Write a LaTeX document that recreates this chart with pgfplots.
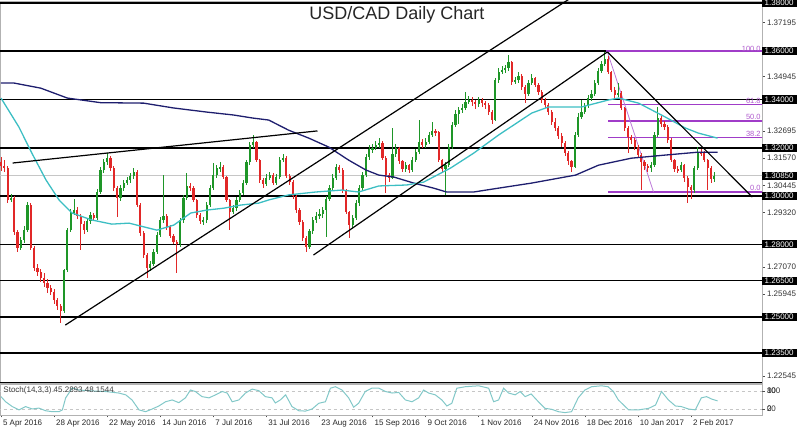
\documentclass[border=0pt]{standalone}
\usepackage{pgfplots}
\pgfplotsset{compat=1.18}
\usepackage{pgfplotstable}
\usepackage{fontspec}
\setmainfont{Liberation Sans}
\definecolor{upc}{RGB}{30,150,40}
\definecolor{dnc}{RGB}{225,40,40}
\definecolor{ma200}{RGB}{30,30,110}
\definecolor{ma50}{RGB}{60,190,195}
\definecolor{stc}{RGB}{130,200,200}
\definecolor{fibc}{RGB}{160,60,200}
\definecolor{fibt}{RGB}{175,90,205}
\pgfplotstableread{
i o h l c
0 1.3140 1.3160 1.3105 1.3124
1 1.3124 1.3150 1.3100 1.3116
2 1.3116 1.3125 1.2970 1.2984
3 1.2984 1.3010 1.2975 1.2992
4 1.2992 1.3000 1.2840 1.2851
5 1.2851 1.2860 1.2770 1.2785
6 1.2785 1.2830 1.2775 1.2818
7 1.2818 1.2875 1.2805 1.2859
8 1.2859 1.2975 1.2850 1.2963
9 1.2963 1.2970 1.2775 1.2785
10 1.2785 1.2795 1.2690 1.2702
11 1.2702 1.2720 1.2670 1.2686
12 1.2686 1.2700 1.2645 1.2661
13 1.2661 1.2680 1.2625 1.2640
14 1.2640 1.2655 1.2600 1.2619
15 1.2619 1.2630 1.2590 1.2603
16 1.2603 1.2615 1.2555 1.2570
17 1.2570 1.2580 1.2530 1.2545
18 1.2545 1.2555 1.2475 1.2524
19 1.2524 1.2700 1.2515 1.2694
20 1.2694 1.2870 1.2685 1.2859
21 1.2859 1.2945 1.2850 1.2930
22 1.2930 1.2990 1.2920 1.2942
23 1.2942 1.2955 1.2905 1.2917
24 1.2917 1.2925 1.2777 1.2884
25 1.2884 1.2895 1.2845 1.2859
26 1.2859 1.2910 1.2850 1.2897
27 1.2897 1.2935 1.2885 1.2922
28 1.2922 1.2930 1.2895 1.2909
29 1.2909 1.3030 1.2900 1.3017
30 1.3017 1.3120 1.3010 1.3108
31 1.3108 1.3155 1.3095 1.3141
32 1.3141 1.3178 1.3130 1.3157
33 1.3157 1.3165 1.3105 1.3116
34 1.3116 1.3125 1.3020 1.3033
35 1.3033 1.3040 1.2915 1.2992
36 1.2992 1.3045 1.2980 1.3033
37 1.3033 1.3065 1.3020 1.3054
38 1.3054 1.3080 1.3045 1.3066
39 1.3066 1.3095 1.3055 1.3083
40 1.3083 1.3115 1.3070 1.3100
41 1.3100 1.3110 1.2955 1.2963
42 1.2963 1.2970 1.2835 1.2847
43 1.2847 1.2855 1.2745 1.2756
44 1.2756 1.2765 1.2661 1.2702
45 1.2702 1.2730 1.2690 1.2719
46 1.2719 1.2780 1.2710 1.2768
47 1.2768 1.2850 1.2760 1.2839
48 1.2839 1.2915 1.2830 1.2901
49 1.2901 1.3087 1.2890 1.2917
50 1.2917 1.2925 1.2860 1.2872
51 1.2872 1.2880 1.2825 1.2835
52 1.2835 1.2845 1.2800 1.2810
53 1.2810 1.2820 1.2682 1.2801
54 1.2801 1.2910 1.2790 1.2901
55 1.2901 1.3005 1.2890 1.2992
56 1.2992 1.3095 1.2985 1.3042
57 1.3042 1.3055 1.3020 1.3033
58 1.3033 1.3040 1.2975 1.2984
59 1.2984 1.2990 1.2910 1.2922
60 1.2922 1.2930 1.2885 1.2897
61 1.2897 1.2915 1.2880 1.2901
62 1.2901 1.2975 1.2890 1.2963
63 1.2963 1.3045 1.2955 1.3033
64 1.3033 1.3136 1.3025 1.3087
65 1.3087 1.3130 1.3075 1.3116
66 1.3116 1.3140 1.3100 1.3120
67 1.3120 1.3130 1.3070 1.3079
68 1.3079 1.3085 1.2975 1.2984
69 1.2984 1.2990 1.2860 1.2934
70 1.2934 1.2965 1.2925 1.2950
71 1.2950 1.2995 1.2940 1.2984
72 1.2984 1.3025 1.2975 1.3013
73 1.3013 1.3065 1.3005 1.3054
74 1.3054 1.3150 1.3045 1.3141
75 1.3141 1.3225 1.3130 1.3211
76 1.3211 1.3253 1.3200 1.3224
77 1.3224 1.3230 1.3140 1.3149
78 1.3149 1.3155 1.3055 1.3066
79 1.3066 1.3075 1.3035 1.3050
80 1.3050 1.3090 1.3040 1.3075
81 1.3075 1.3100 1.3065 1.3087
82 1.3087 1.3095 1.3045 1.3054
83 1.3054 1.3090 1.3045 1.3079
84 1.3079 1.3160 1.3070 1.3149
85 1.3149 1.3175 1.3140 1.3157
86 1.3157 1.3165 1.3075 1.3083
87 1.3083 1.3090 1.3045 1.3058
88 1.3058 1.3065 1.2990 1.3000
89 1.3000 1.3005 1.2930 1.2942
90 1.2942 1.2950 1.2880 1.2893
91 1.2893 1.2900 1.2815 1.2826
92 1.2826 1.2835 1.2769 1.2789
93 1.2789 1.2865 1.2780 1.2855
94 1.2855 1.2915 1.2845 1.2901
95 1.2901 1.2935 1.2890 1.2917
96 1.2917 1.2945 1.2905 1.2926
97 1.2926 1.2955 1.2910 1.2942
98 1.2942 1.3000 1.2831 1.2988
99 1.2988 1.3045 1.2980 1.3033
100 1.3033 1.3090 1.3025 1.3075
101 1.3075 1.3135 1.3065 1.3120
102 1.3120 1.3130 1.3095 1.3108
103 1.3108 1.3115 1.3015 1.3025
104 1.3025 1.3030 1.2925 1.2934
105 1.2934 1.2940 1.2827 1.2880
106 1.2880 1.2920 1.2870 1.2909
107 1.2909 1.2985 1.2900 1.2971
108 1.2971 1.3045 1.2960 1.3033
109 1.3033 1.3100 1.3025 1.3087
110 1.3087 1.3175 1.3080 1.3162
111 1.3162 1.3210 1.3150 1.3195
112 1.3195 1.3215 1.3180 1.3199
113 1.3199 1.3230 1.3190 1.3211
114 1.3211 1.3240 1.3200 1.3220
115 1.3220 1.3228 1.3150 1.3157
116 1.3157 1.3165 1.3013 1.3087
117 1.3087 1.3095 1.3060 1.3075
118 1.3075 1.3282 1.3070 1.3174
119 1.3174 1.3215 1.3160 1.3199
120 1.3199 1.3205 1.3135 1.3145
121 1.3145 1.3150 1.3100 1.3112
122 1.3112 1.3140 1.3100 1.3128
123 1.3128 1.3135 1.3095 1.3108
124 1.3108 1.3160 1.3100 1.3149
125 1.3149 1.3195 1.3140 1.3182
126 1.3182 1.3315 1.3175 1.3224
127 1.3224 1.3235 1.3200 1.3211
128 1.3211 1.3240 1.3200 1.3224
129 1.3224 1.3265 1.3215 1.3253
130 1.3253 1.3307 1.3245 1.3269
131 1.3269 1.3280 1.3250 1.3265
132 1.3265 1.3270 1.3140 1.3149
133 1.3149 1.3155 1.3100 1.3112
134 1.3112 1.3140 1.3005 1.3128
135 1.3128 1.3215 1.3120 1.3203
136 1.3203 1.3305 1.3195 1.3294
137 1.3294 1.3355 1.3285 1.3340
138 1.3340 1.3370 1.3300 1.3356
139 1.3356 1.3380 1.3345 1.3365
140 1.3365 1.3431 1.3355 1.3389
141 1.3389 1.3415 1.3380 1.3398
142 1.3398 1.3410 1.3375 1.3389
143 1.3389 1.3400 1.3360 1.3381
144 1.3381 1.3410 1.3370 1.3398
145 1.3398 1.3405 1.3370 1.3385
146 1.3385 1.3395 1.3360 1.3377
147 1.3377 1.3385 1.3335 1.3348
148 1.3348 1.3355 1.3300 1.3315
149 1.3315 1.3490 1.3310 1.3480
150 1.3480 1.3530 1.3470 1.3514
151 1.3514 1.3540 1.3505 1.3522
152 1.3522 1.3545 1.3510 1.3530
153 1.3530 1.3584 1.3520 1.3555
154 1.3555 1.3560 1.3460 1.3472
155 1.3472 1.3495 1.3465 1.3480
156 1.3480 1.3515 1.3470 1.3497
157 1.3497 1.3505 1.3440 1.3451
158 1.3451 1.3460 1.3385 1.3422
159 1.3422 1.3480 1.3415 1.3468
160 1.3468 1.3505 1.3460 1.3489
161 1.3489 1.3495 1.3450 1.3460
162 1.3460 1.3470 1.3420 1.3431
163 1.3431 1.3440 1.3385 1.3398
164 1.3398 1.3405 1.3365 1.3377
165 1.3377 1.3385 1.3335 1.3348
166 1.3348 1.3355 1.3295 1.3306
167 1.3306 1.3325 1.3270 1.3282
168 1.3282 1.3290 1.3235 1.3249
169 1.3249 1.3260 1.3205 1.3220
170 1.3220 1.3230 1.3165 1.3178
171 1.3178 1.3185 1.3130 1.3145
172 1.3145 1.3150 1.3100 1.3120
173 1.3120 1.3265 1.3115 1.3253
174 1.3253 1.3345 1.3245 1.3327
175 1.3327 1.3400 1.3320 1.3348
176 1.3348 1.3385 1.3340 1.3373
177 1.3373 1.3420 1.3365 1.3406
178 1.3406 1.3440 1.3395 1.3422
179 1.3422 1.3480 1.3415 1.3468
180 1.3468 1.3530 1.3460 1.3518
181 1.3518 1.3560 1.3510 1.3547
182 1.3547 1.3597 1.3540 1.3567
183 1.3567 1.3580 1.3505 1.3514
184 1.3514 1.3520 1.3430 1.3439
185 1.3439 1.3450 1.3405 1.3418
186 1.3418 1.3470 1.3410 1.3427
187 1.3427 1.3435 1.3355 1.3365
188 1.3365 1.3370 1.3270 1.3282
189 1.3282 1.3290 1.3179 1.3244
190 1.3244 1.3255 1.3215 1.3232
191 1.3232 1.3240 1.3190 1.3203
192 1.3203 1.3210 1.3160 1.3170
193 1.3170 1.3180 1.3025 1.3141
194 1.3141 1.3150 1.3110 1.3124
195 1.3124 1.3135 1.3100 1.3116
196 1.3116 1.3140 1.3100 1.3128
197 1.3128 1.3265 1.3120 1.3253
198 1.3253 1.3369 1.3245 1.3323
199 1.3323 1.3330 1.3285 1.3298
200 1.3298 1.3310 1.3275 1.3286
201 1.3286 1.3295 1.3220 1.3232
202 1.3232 1.3240 1.3140 1.3149
203 1.3149 1.3155 1.3100 1.3112
204 1.3112 1.3125 1.3095 1.3108
205 1.3108 1.3140 1.3100 1.3128
206 1.3128 1.3135 1.3060 1.3075
207 1.3075 1.3085 1.2972 1.3037
208 1.3037 1.3045 1.2990 1.3025
209 1.3025 1.3125 1.3015 1.3116
210 1.3116 1.3203 1.3110 1.3182
211 1.3182 1.3195 1.3165 1.3178
212 1.3178 1.3185 1.3140 1.3149
213 1.3149 1.3155 1.3025 1.3116
214 1.3116 1.3125 1.3055 1.3070
215 1.3070 1.3100 1.3060 1.3085
}\ohlc
\begin{document}
\begin{tikzpicture}
\useasboundingbox (0pt,0pt) rectangle (800pt,428pt);
\node[font=\fontsize{18}{20}\selectfont, text=black!85] at (397pt,413pt) {USD/CAD Daily Chart};
\begin{axis}[at={(0pt,427pt)}, anchor=north west, scale only axis,
  width=762pt, height=382pt,
  xmin=-0.3, xmax=229.4, ymin=1.2226, ymax=1.3808,
  xtick=\empty,
  ytick pos=right, yticklabel pos=right, tick align=outside,
  major tick length=2.5pt,
  tick style={gray!60!black, line width=0.5pt},
  axis line style={gray!60, line width=0.8pt},
  /pgf/number format/assume math mode=true,
  ytick={1.22545,1.25945,1.27070,1.29320,1.30445,1.31570,1.32695,1.34945,1.37195},
  yticklabels={1.22545,1.25945,1.27070,1.29320,1.30445,1.31570,1.32695,1.34945,1.37195},
  yticklabel style={font=\fontsize{8}{9}\selectfont, text=black!80, xshift=-1pt},
  extra y ticks={1.235,1.25,1.265,1.28,1.30,1.3085,1.32,1.34,1.36,1.38},
  extra y tick labels={1.23500,1.25000,1.26500,1.28000,1.30000,1.30850,1.32000,1.34000,1.36000,1.38000},
  extra y tick style={yticklabel style={fill=black, text=white, inner xsep=3pt, inner ysep=1.2pt, xshift=-2pt}},
  clip=true]
% horizontal levels
\addplot[gray!45, line width=0.5pt] coordinates {(-1,1.3085) (230,1.3085)};
\addplot[black, line width=1.5pt] coordinates {(-1,1.38) (230,1.38)};
\addplot[black, line width=1.5pt] coordinates {(-1,1.36) (230,1.36)};
\addplot[black, line width=1.5pt] coordinates {(-1,1.34) (230,1.34)};
\addplot[black, line width=1.5pt] coordinates {(-1,1.32) (230,1.32)};
\addplot[black, line width=1.5pt] coordinates {(-1,1.30) (230,1.30)};
\addplot[black, line width=1.5pt] coordinates {(-1,1.28) (230,1.28)};
\addplot[black, line width=1.5pt] coordinates {(-1,1.265) (230,1.265)};
\addplot[black, line width=1.5pt] coordinates {(-1,1.25) (230,1.25)};
\addplot[black, line width=1.5pt] coordinates {(-1,1.235) (230,1.235)};
% fibonacci levels
\addplot[fibc, line width=1.5pt] coordinates {(182.3,1.3600) (230,1.3600)};
\addplot[fibc, line width=1.5pt] coordinates {(183.1,1.3380) (230,1.3380)};
\addplot[fibc, line width=1.5pt] coordinates {(183.1,1.3310) (230,1.3310)};
\addplot[fibc, line width=1.5pt] coordinates {(183.1,1.3242) (230,1.3242)};
\addplot[fibc, line width=1.5pt] coordinates {(183.1,1.3018) (230,1.3018)};
\addplot[fibc!70, line width=0.8pt] coordinates {(182.8,1.3597) (196.7,1.3017)};
% candles: wicks
\addplot[draw=none, forget plot, restrict y to domain=1:2,
  error bars/.cd, y dir=both, y explicit, error mark=none,
  error bar style={draw=upc, line width=0.8pt}]
  table[x=i, y expr={(\thisrow{c}>=\thisrow{o}) ? (\thisrow{h}+\thisrow{l})/2 : 0},
        y error expr={(\thisrow{h}-\thisrow{l})/2}] {\ohlc};
\addplot[draw=none, forget plot, restrict y to domain=1:2,
  error bars/.cd, y dir=both, y explicit, error mark=none,
  error bar style={draw=dnc, line width=0.8pt}]
  table[x=i, y expr={(\thisrow{c}<\thisrow{o}) ? (\thisrow{h}+\thisrow{l})/2 : 0},
        y error expr={(\thisrow{h}-\thisrow{l})/2}] {\ohlc};
% candles: bodies
\addplot[draw=none, forget plot, restrict y to domain=1:2,
  error bars/.cd, y dir=both, y explicit, error mark=none,
  error bar style={draw=upc, line width=2.2pt}]
  table[x=i, y expr={(\thisrow{c}>=\thisrow{o}) ? (\thisrow{o}+\thisrow{c})/2 : 0},
        y error expr={max(abs(\thisrow{c}-\thisrow{o})/2,0.0001)}] {\ohlc};
\addplot[draw=none, forget plot, restrict y to domain=1:2,
  error bars/.cd, y dir=both, y explicit, error mark=none,
  error bar style={draw=dnc, line width=2.2pt}]
  table[x=i, y expr={(\thisrow{c}<\thisrow{o}) ? (\thisrow{o}+\thisrow{c})/2 : 0},
        y error expr={max(abs(\thisrow{c}-\thisrow{o})/2,0.0001)}] {\ohlc};
% moving averages
\addplot[ma200, line width=1.3pt] coordinates {
(0,1.3468) (4,1.3468) (12,1.3447) (20,1.3406) (30,1.3387) (43,1.3385) (52,1.3365)
(62,1.3348) (70,1.3336) (76,1.3323) (80.7,1.3315) (86.7,1.3273) (92.8,1.3240)
(98.8,1.3203) (104.8,1.3149) (110,1.3108) (113.9,1.3087) (118.4,1.3079)
(124.4,1.3054) (130.4,1.3033) (134.3,1.3017) (142.5,1.3017) (150,1.3033)
(160,1.3054) (173.2,1.3087) (180.1,1.3128) (190,1.3157) (200.3,1.3170)
(210.2,1.3182) (216,1.3182)};
\addplot[ma50, line width=1.3pt] coordinates {
(0,1.3406) (5.4,1.3286) (9.3,1.3178) (13.6,1.3066) (17.5,1.2984) (21.4,1.2930)
(27.4,1.2901) (33.4,1.2884) (38.6,1.2888) (47,1.2859) (52.1,1.2880) (57.2,1.2930)
(62,1.2942) (67.2,1.2950) (72.3,1.2963) (77.7,1.2971) (80.7,1.2984) (86.7,1.3005)
(94.9,1.3017) (102.7,1.3025) (107.8,1.3017) (113.9,1.3042) (122.3,1.3046)
(127.4,1.3058) (135.5,1.3116) (142.5,1.3178) (150,1.3253) (160,1.3344)
(165,1.3369) (175,1.3369) (183.1,1.3398) (186.1,1.3406) (192.2,1.3385)
(200.3,1.3327) (206.3,1.3282) (210.2,1.3261) (216,1.3240)};
% trendlines
\addplot[black, line width=1.2pt] coordinates {(19.4,1.2466) (175,1.3849)};
\addplot[black, line width=1.2pt] coordinates {(94.2,1.2756) (182.8,1.3597)};
\addplot[black, line width=1.2pt] coordinates {(3.5,1.3137) (95.4,1.3270)};
\addplot[black, line width=1.2pt] coordinates {(182.8,1.3597) (226.5,1.2996)};
% fib labels
\node[anchor=south east, text=fibt, font=\fontsize{7.5}{8}\selectfont, inner sep=0.5pt] at (axis cs:229.2,1.3594) {100.0};
\node[anchor=south east, text=fibt, font=\fontsize{7.5}{8}\selectfont, inner sep=0.5pt] at (axis cs:229.2,1.3382) {61.8};
\node[anchor=south east, text=fibt, font=\fontsize{7.5}{8}\selectfont, inner sep=0.5pt] at (axis cs:229.2,1.3312) {50.0};
\node[anchor=south east, text=fibt, font=\fontsize{7.5}{8}\selectfont, inner sep=0.5pt] at (axis cs:229.2,1.3244) {38.2};
\node[anchor=south east, text=fibt, font=\fontsize{7.5}{8}\selectfont, inner sep=0.5pt] at (axis cs:229.2,1.3020) {0.0};
\draw[black, line width=1.8pt] (rel axis cs:0,0) -- (rel axis cs:1,0);
\end{axis}
\begin{axis}[at={(0pt,44pt)}, anchor=north west, scale only axis,
  width=762pt, height=31pt,
  xmin=-0.3, xmax=229.4, ymin=0, ymax=103,
  xtick={0,16,...,208},
  xticklabels={5 Apr 2016,28 Apr 2016,22 May 2016,14 Jun 2016,7 Jul 2016,31 Jul 2016,23 Aug 2016,15 Sep 2016,9 Oct 2016,1 Nov 2016,24 Nov 2016,18 Dec 2016,10 Jan 2017,2 Feb 2017},
  xtick pos=bottom, tick align=outside, major tick length=2.5pt,
  xticklabel style={anchor=north west, xshift=-1.5pt, yshift=1pt, font=\fontsize{8}{9}\selectfont, text=black!85},
  ytick={20,80}, yticklabels={20,80},
  extra y ticks={20,80}, extra y tick labels={0,100},
  ytick pos=right, yticklabel pos=right,
  yticklabel style={font=\fontsize{8}{9}\selectfont, text=black!80, xshift=-1pt, anchor=west},
  tick style={gray!60!black, line width=0.5pt},
  axis line style={gray!60, line width=0.8pt},
  clip=true]
\addplot[gray!45, dashed, line width=0.4pt] coordinates {(-1,80) (230,80)};
\addplot[gray!45, dashed, line width=0.4pt] coordinates {(-1,20) (230,20)};
\addplot[stc, line width=1pt] coordinates {
(0,61) (1.4,44) (3.4,28) (5.4,17) (7.4,28) (9.4,20) (11.4,23) (13.5,14) (15.5,11)
(17.5,11) (18.5,17) (19.5,57) (21.5,90) (23.5,83) (27.5,80) (31.5,78) (35.5,73)
(37.6,67) (39.5,50) (41.6,17) (43.6,11) (45.6,20) (47.6,30) (49.6,44) (51.6,50)
(53.6,41) (55.6,57) (57.1,83) (58.6,78) (60.6,61) (62.7,57) (64.7,67) (66.7,78)
(68.2,73) (69.7,44) (71.7,50) (73.7,73) (75.7,86) (77.7,81) (79.7,61) (81.7,57)
(82.7,40) (84.2,50) (85.8,67) (87.7,28) (89.8,14) (91.8,13) (93.8,20) (95.8,39)
(97.8,44) (99.3,89) (100.8,94) (102.8,83) (104.8,57) (106.3,26) (107.8,39)
(109.8,78) (111.8,89) (113.9,89) (115.9,78) (117.9,73) (119.9,75) (121.9,50)
(123.9,44) (125.9,57) (127.4,83) (128.9,73) (130.9,67) (132.9,50) (134.4,30)
(135.9,39) (137.4,89) (140,94) (144,97) (147,89) (148.5,44) (150,50) (151.5,89)
(153,73) (155,67) (156.5,78) (158,61) (159.8,70) (162,44) (164,22) (166,19)
(168,11) (170,8) (172,11) (174,57) (176,83) (178,94) (181,97) (183,94) (184.6,78)
(186.1,50) (187.7,33) (189.2,17) (192.2,17) (195.2,22) (197.3,33) (199.1,78)
(201.2,50) (203.3,30) (205.1,28) (207.2,20) (209.3,17) (211.1,57) (212.7,61)
(214.2,53) (216,47)};
\node[anchor=west, font=\fontsize{8}{9}\selectfont, text=black!75, inner sep=1pt] at (rel axis cs:0.003,0.8) {Stoch(14,3,3) 45.2893 48.1544};
\end{axis}
\end{tikzpicture}
\end{document}
